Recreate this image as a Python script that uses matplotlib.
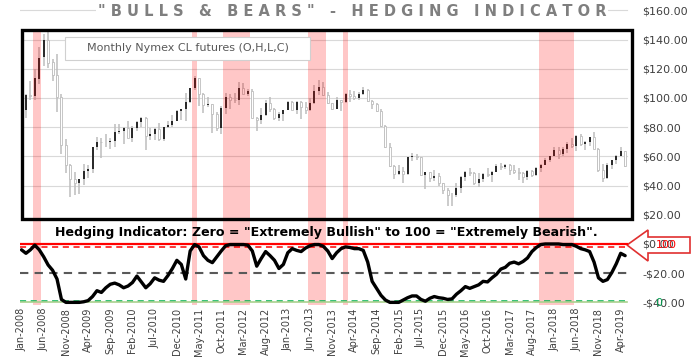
import matplotlib
matplotlib.use("Agg")
import matplotlib.pyplot as plt
import matplotlib.transforms as mtransforms
from matplotlib.patches import Rectangle, Polygon
import numpy as np
import pandas as pd

# ----------------------------------------------------------------------
# Data: monthly Nymex CL futures (O, H, L, C), Jan 2008 - May 2019
# ----------------------------------------------------------------------
months = pd.date_range("2008-01-01", "2019-05-01", freq="MS")

opens = [
    96.0, 91.9, 101.9, 101.6, 113.0, 127.8, 140.0, 124.5, 115.5, 100.8, 67.8, 54.0,
    44.6, 41.7, 44.8, 49.7, 51.1, 66.3, 69.9, 69.5, 70.0, 70.6, 77.0, 77.3,
    79.4, 72.9, 79.7, 83.8, 86.2, 74.0, 75.6, 79.0, 71.9, 80.0, 81.4, 84.1,
    91.4, 92.2, 97.0, 106.7, 113.9, 102.7, 95.4, 95.7, 88.8, 79.2, 93.2, 100.4,
    98.8, 98.5, 107.1, 103.0, 104.9, 86.5, 85.0, 88.1, 96.5, 92.2, 86.2, 88.9,
    91.8, 97.5, 92.1, 97.2, 93.5, 92.0, 96.6, 105.0, 107.7, 102.3, 96.4, 92.7,
    98.4, 97.5, 102.6, 101.6, 99.7, 102.7, 105.4, 98.2, 96.0, 91.2, 80.5, 66.2,
    53.3, 48.2, 49.8, 47.6, 59.6, 60.3, 59.5, 47.1, 49.2, 45.1, 46.6, 41.7,
    37.0, 33.6, 33.8, 38.3, 45.9, 49.1, 48.3, 41.6, 44.7, 48.2, 46.9, 49.4,
    53.7, 52.8, 54.0, 50.6, 49.3, 48.3, 46.0, 50.2, 47.2, 51.7, 54.4, 57.4,
    60.4, 64.7, 61.6, 64.9, 68.6, 67.0, 74.2, 68.8, 69.8, 73.3, 65.3, 50.9,
    45.4, 53.8, 57.2, 60.1, 63.9,
]
highs = [
    100.1, 103.0, 111.8, 119.9, 135.1, 143.7, 147.3, 126.5, 130.0, 102.5, 72.0, 54.7,
    49.0, 43.9, 54.7, 54.0, 66.7, 73.4, 72.6, 75.0, 72.9, 82.0, 82.0, 80.0,
    84.0, 80.5, 83.9, 87.2, 87.0, 79.4, 79.3, 82.9, 80.4, 84.4, 88.6, 92.1,
    92.6, 103.4, 107.0, 114.8, 114.0, 103.4, 100.6, 95.7, 90.5, 94.7, 103.4, 102.4,
    103.7, 110.6, 110.0, 106.0, 106.4, 86.8, 92.9, 98.3, 100.4, 93.0, 90.1, 91.2,
    98.2, 98.2, 97.9, 97.8, 97.0, 99.7, 108.9, 112.2, 110.7, 104.4, 96.5, 100.8,
    98.9, 103.6, 105.2, 105.0, 104.2, 107.7, 106.0, 98.7, 96.6, 92.5, 81.7, 69.0,
    54.3, 54.2, 52.5, 59.9, 62.6, 61.9, 59.6, 49.4, 49.3, 50.9, 48.4, 42.0,
    38.4, 34.6, 41.9, 46.8, 50.2, 51.7, 49.5, 48.8, 48.4, 51.9, 49.9, 54.5,
    55.2, 54.9, 54.6, 53.8, 52.0, 49.0, 50.4, 50.4, 52.9, 54.9, 59.1, 60.5,
    66.7, 66.7, 66.6, 69.6, 72.9, 74.5, 75.3, 70.6, 73.4, 76.9, 65.8, 54.6,
    55.4, 57.8, 60.7, 66.6, 64.0,
]
lows = [
    86.1, 86.1, 98.7, 98.7, 109.9, 122.2, 120.4, 111.3, 90.5, 61.3, 48.6, 32.4,
    33.6, 34.0, 40.3, 45.0, 48.6, 64.3, 59.0, 66.1, 65.1, 66.4, 75.2, 68.6,
    72.4, 69.5, 77.6, 80.2, 64.2, 71.1, 71.4, 70.8, 70.8, 79.1, 80.0, 84.0,
    85.1, 84.1, 96.5, 105.5, 94.6, 89.7, 94.0, 75.7, 77.1, 75.0, 89.2, 92.5,
    96.8, 95.4, 102.6, 101.6, 86.0, 77.3, 82.1, 87.4, 90.2, 85.2, 84.1, 84.1,
    91.8, 91.9, 89.3, 85.6, 89.1, 91.1, 95.6, 102.2, 101.5, 96.0, 91.8, 92.3,
    91.2, 96.6, 97.4, 98.6, 98.9, 101.8, 97.2, 92.5, 90.4, 79.8, 65.7, 52.4,
    44.2, 47.4, 42.0, 47.0, 56.5, 57.2, 46.7, 37.8, 42.6, 43.2, 40.0, 34.5,
    26.2, 26.1, 32.5, 35.2, 43.0, 46.7, 40.6, 39.2, 42.5, 46.2, 42.2, 49.4,
    50.7, 51.2, 47.1, 48.2, 43.8, 42.1, 44.0, 45.6, 46.6, 49.1, 53.8, 56.1,
    60.0, 58.1, 60.0, 62.0, 65.8, 63.6, 67.0, 64.4, 67.0, 64.9, 49.4, 42.4,
    44.4, 51.3, 55.0, 60.1, 53.0,
]
closes = [
    91.8, 101.8, 101.6, 113.5, 127.4, 140.0, 124.1, 115.5, 100.6, 67.8, 54.4, 44.6,
    41.7, 44.8, 49.7, 51.1, 66.3, 69.9, 69.5, 70.0, 70.6, 77.0, 77.3, 79.4,
    72.9, 79.7, 83.8, 86.2, 74.0, 75.6, 79.0, 71.9, 80.0, 81.4, 84.1, 91.4,
    92.2, 97.0, 106.7, 113.9, 102.7, 95.4, 95.7, 88.8, 79.2, 93.2, 100.4, 98.8,
    98.5, 107.1, 103.0, 104.9, 86.5, 85.0, 88.1, 96.5, 92.2, 86.2, 88.9, 91.8,
    97.5, 92.1, 97.2, 93.5, 92.0, 96.6, 105.0, 107.7, 102.3, 96.4, 92.7, 98.4,
    97.5, 102.6, 101.6, 99.7, 102.7, 105.4, 98.2, 96.0, 91.2, 80.5, 66.2, 53.3,
    48.2, 49.8, 47.6, 59.6, 60.3, 59.5, 47.1, 49.2, 45.1, 46.6, 41.7, 37.0,
    33.6, 33.8, 38.3, 45.9, 49.1, 48.3, 41.6, 44.7, 48.2, 46.9, 49.4, 53.7,
    52.8, 54.0, 50.6, 49.3, 48.3, 46.0, 50.2, 47.2, 51.7, 54.4, 57.4, 60.4,
    64.7, 61.6, 64.9, 68.6, 67.0, 74.2, 68.8, 69.8, 73.3, 65.3, 50.9, 45.4,
    53.8, 57.2, 60.1, 63.9, 53.5,
]

# Hedging indicator, 0 = extremely bullish, 100 = extremely bearish
indicator = [
    90, 84, 90, 98, 90, 78, 64, 55, 40, 5, 0, 0, 0, 0, 1, 3, 10, 20, 17, 25,
    31, 33, 30, 25, 28, 34, 45, 35, 25, 32, 42, 38, 36, 46, 58, 72, 65, 40, 88, 99,
    95, 80, 72, 68, 78, 88, 97, 99, 99, 99, 99, 98, 88, 62, 75, 87, 80, 72, 58, 65,
    85, 92, 89, 87, 93, 97, 99, 99, 96, 88, 75, 85, 92, 95, 94, 92, 92, 89, 69, 36,
    24, 12, 4, 0, 0, 0, 4, 8, 11, 11, 5, 2, 7, 10, 8, 7, 5, 6, 14, 20,
    27, 24, 27, 30, 36, 35, 42, 48, 57, 60, 67, 69, 66, 70, 76, 87, 94, 99, 100, 100,
    100, 100, 99, 99, 99, 96, 92, 90, 87, 69, 42, 36, 39, 51, 66, 84, 80,
]

# shaded "extremely bearish" periods
band_start = ["2008-04", "2011-04", "2011-11", "2013-06", "2014-02", "2017-10"]
band_end = ["2008-05", "2011-04", "2012-04", "2013-09", "2014-02", "2018-05"]

title = '"BULLS & BEARS" - HEDGING INDICATOR'
legend_label = "Monthly Nymex CL futures (O,H,L,C)"
subtitle = 'Hedging Indicator: Zero = "Extremely Bullish" to 100 = "Extremely Bearish".'
price_ticks = list(range(-40, 161, 20))

# ----------------------------------------------------------------------
# Plot
# ----------------------------------------------------------------------
W, H = 700, 360
fig = plt.figure(figsize=(7, 3.6), dpi=100)
fig.patch.set_facecolor("white")

ax = fig.add_axes([20 / W, 55 / H, 614 / W, 305 / H])
ax.set_facecolor("none")
ylo, yhi = -41.8, 167.1
ax.set_xlim(-0.34, 138.0)
ax.set_ylim(ylo, yhi)

x = np.arange(len(months))
o = np.array(opens)
h = np.array(highs)
l = np.array(lows)
c = np.array(closes)
up = c >= o

# gridlines
for v in range(40, 161, 20):
    ax.axhline(v, xmin=0 if v == 160 else 0.003, xmax=0.989,
               color="#d9d9d9", lw=0.8, zorder=0.5)

# OHLC candles
ax.vlines(x, l, h, color="#bdbdbd", lw=1.1, zorder=1)
ax.bar(x[up], (c - o)[up], bottom=o[up], width=0.45,
       color="#2b2b2b", lw=0, zorder=1.5)
ax.bar(x[~up], (o - c)[~up], bottom=c[~up], width=0.45,
       facecolor="white", edgecolor="#bdbdbd", lw=0.6, zorder=1.5)

# bearish bands
box_lo, box_hi = 17.1, 146.8
top_frac = (box_hi - ylo) / (yhi - ylo)
for s, e in zip(band_start, band_end):
    i0 = months.get_loc(pd.Timestamp(s))
    i1 = months.get_loc(pd.Timestamp(e))
    ax.axvspan(i0 - 0.5, i1 + 0.5, ymin=0, ymax=top_frac,
               color="red", alpha=0.22, lw=0, zorder=2)

# thick black frame round the price area
blend = mtransforms.blended_transform_factory(ax.transAxes, ax.transData)
ax.add_patch(Rectangle((0.0033, box_lo), 0.9935, box_hi - box_lo, transform=blend,
                       fill=False, edgecolor="black", lw=2.4, zorder=4, clip_on=False))

# legend box
ax.add_patch(Rectangle((0.0733, 0.8033), 0.399, 0.0754, transform=ax.transAxes,
                       facecolor="white", edgecolor="#d0d0d0", lw=0.8, zorder=3))
ax.text(0.2728, 0.841, legend_label, transform=ax.transAxes, ha="center", va="center",
        fontsize=8, color="#595959", zorder=3.5)

ax.text(0.4984, 0.2393, subtitle, transform=ax.transAxes, ha="center", va="center",
        fontsize=9.1, fontweight="bold", color="black", zorder=5)

for sp in ax.spines.values():
    sp.set_visible(False)

# indicator on its own scale (0..100 sits on the -$40..$0 band)
ax2 = ax.twinx()
ax2.set_facecolor("none")
ax2.set_ylim((ylo + 40) * 2.5, (yhi + 40) * 2.5)
for sp in ax2.spines.values():
    sp.set_visible(False)
ax2.axhline(100, xmax=0.989, color="red", lw=1.6, zorder=1)
ax2.axhline(95, xmax=0.989, color="red", lw=1.1, ls=(0, (4, 3)), zorder=1)
ax2.axhline(50, xmax=0.989, color="#595959", lw=1.5, ls=(0, (4, 3)), zorder=1)
ax2.axhline(3, xmax=0.989, color="#00b050", lw=1.1, ls=(0, (4, 3)), zorder=1)
ax2.axhline(0, xmax=0.989, color="#a9d18e", lw=1.2, zorder=1)
ax2.plot(x, indicator, color="black", lw=2.4, solid_joinstyle="round",
         solid_capstyle="round", zorder=3)
ax2.set_yticks([0, 100])
ax2.set_yticklabels(["0", "100"])
ax2.tick_params(axis="y", length=0, pad=15.5, labelsize=8)
lbls = ax2.get_yticklabels()
lbls[0].set_color("#00a050")
lbls[1].set_color("red")

# price axis labels on the right (after twinx, which moves them left)
ax.yaxis.tick_right()
ax.set_yticks(price_ticks)
ax.set_yticklabels([f"${v:.2f}" if v >= 0 else f"-${-v:.2f}" for v in price_ticks])
ax.tick_params(axis="y", length=0, pad=5.8, labelsize=8, labelcolor="#404040")
ax.set_xticks(x[::5])
ax.set_xticklabels(months[::5].strftime("%b-%Y"), rotation=90)
ax.tick_params(axis="x", length=0, pad=2, labelsize=7, labelcolor="#404040")

# title
fig.text(352 / W, 1 - 12 / H, " ".join(title), ha="center", va="center",
         fontsize=10.5, fontweight="bold", color="#7f7f7f",
         bbox=dict(facecolor="white", edgecolor="none", pad=1))

# red outlined arrow pointing at the top line
arrow_px = [(627, 245), (648, 230), (648, 237), (690, 237),
            (690, 253), (648, 253), (648, 261)]
arrow = Polygon([(px / W, 1 - py / H) for px, py in arrow_px], closed=True,
                transform=fig.transFigure, facecolor="white", edgecolor="#e03030",
                lw=1.2, zorder=-1)
fig.add_artist(arrow)

fig.savefig("out.png", dpi=100)
